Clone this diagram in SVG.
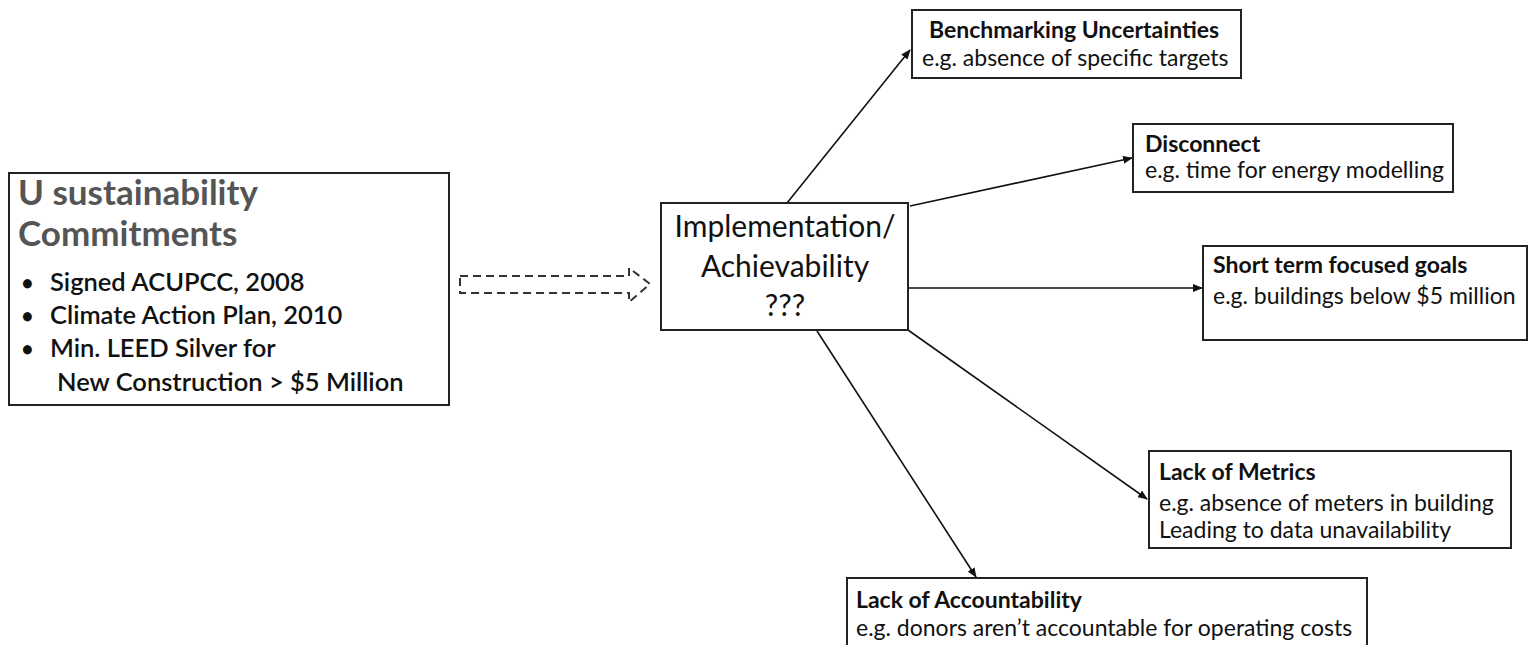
<svg xmlns="http://www.w3.org/2000/svg" width="1535" height="645" viewBox="0 0 1535 645">
<style>
.box{fill:#fff;stroke:#222;stroke-width:2}
.t{font-family:Lato,"Liberation Sans",sans-serif;fill:#111}
.b{font-weight:bold;font-size:23px}
.r{font-size:23px}
.c{stroke:#111;stroke-width:1.6;fill:none;marker-end:url(#ah)}
</style>
<defs>
<marker id="ah" markerWidth="10" markerHeight="8" refX="9" refY="4" orient="auto" markerUnits="userSpaceOnUse">
<path d="M0,0 L10,4 L0,8 Z" fill="#111"/>
</marker>
</defs>
<rect width="1535" height="645" fill="#fff"/>
<g id="connectors">
<path id="dashed-arrow" d="M460,276 L629,276 L629,268 L650,284 L629,302 L629,293 L460,293 Z" fill="none" stroke="#333" stroke-width="2" stroke-dasharray="8,5"/>
<line class="c" x1="787" y1="203" x2="910" y2="50"/>
<line class="c" x1="910" y1="206" x2="1132" y2="158"/>
<line class="c" x1="908" y1="288" x2="1202" y2="288"/>
<line class="c" x1="908" y1="330" x2="1147" y2="499"/>
<line class="c" x1="817" y1="331" x2="976" y2="577"/>
</g>
<g id="commitments">
<rect class="box" x="9" y="173" width="440" height="232"/>
<text class="t" x="18" y="205" font-size="35" font-weight="bold" style="fill:#555">U sustainability</text>
<text class="t" x="18" y="246" font-size="35" font-weight="bold" style="fill:#555">Commitments</text>
<g font-size="25.5" font-weight="600">
<text class="t" x="21" y="291" font-size="22">•</text><text class="t" x="50" y="291">Signed ACUPCC, 2008</text>
<text class="t" x="21" y="324" font-size="22">•</text><text class="t" x="50" y="324">Climate Action Plan, 2010</text>
<text class="t" x="21" y="357" font-size="22">•</text><text class="t" x="50" y="357">Min. LEED Silver for</text>
<text class="t" x="57" y="391">New Construction &gt; $5 Million</text>
</g>
</g>
<g id="implementation">
<rect class="box" x="661" y="203" width="247" height="127"/>
<g font-size="30" text-anchor="middle">
<text class="t" x="785" y="237">Implementation/</text>
<text class="t" x="785" y="277">Achievability</text>
<text class="t" x="785" y="316">???</text>
</g>
</g>
<g id="benchmarking">
<rect class="box" x="912" y="10" width="329" height="68"/>
<text class="t b" x="929" y="38">Benchmarking Uncertainties</text>
<text class="t r" x="922" y="66">e.g. absence of specific targets</text>
</g>
<g id="disconnect">
<rect class="box" x="1133" y="124" width="320" height="68"/>
<text class="t b" x="1145" y="152">Disconnect</text>
<text class="t r" x="1145" y="178">e.g. time for energy modelling</text>
</g>
<g id="shortterm">
<rect class="box" x="1203" y="246" width="324" height="94"/>
<text class="t b" x="1213" y="273">Short term focused goals</text>
<text class="t r" x="1213" y="304">e.g. buildings below $5 million</text>
</g>
<g id="metrics">
<rect class="box" x="1149" y="451" width="362" height="97"/>
<text class="t b" x="1159" y="480">Lack of Metrics</text>
<text class="t r" x="1159" y="511">e.g. absence of meters in building</text>
<text class="t r" x="1159" y="538">Leading to data unavailability</text>
</g>
<g id="accountability">
<rect class="box" x="847" y="578" width="520" height="80"/>
<text class="t b" x="856" y="608">Lack of Accountability</text>
<text class="t r" x="856" y="636">e.g. donors aren’t accountable for operating costs</text>
</g>
</svg>
